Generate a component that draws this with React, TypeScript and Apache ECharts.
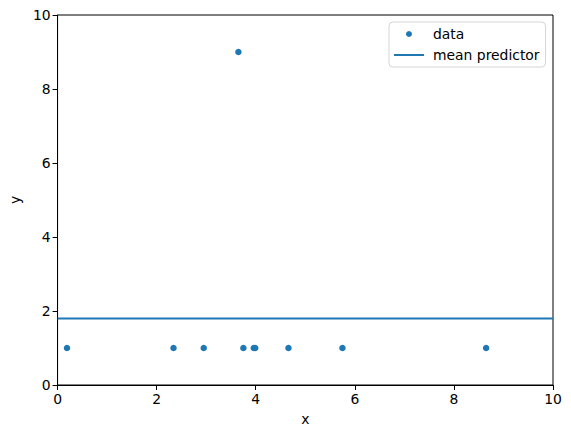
import { useEffect, useRef } from 'react'
import * as echarts from 'echarts'

// scatter points
const DATA_X = [0.19, 2.34, 2.95, 3.65, 3.75, 3.96, 3.99, 4.66, 5.75, 8.65]
const DATA_Y = [1, 1, 1, 9, 1, 1, 1, 1, 1, 1]

// horizontal mean line (y value), spanning the x range
const MEAN_Y = 1.8
const MEAN_X = [0, 10]

const X_TICKS = [0, 2, 4, 6, 8, 10]
const Y_TICKS = [0, 2, 4, 6, 8, 10]

const BLUE = '#1f77b4'
const FONT = 'DejaVu Sans, sans-serif'

// thin horizontal bar centred in a 30x6 box, used as the line's legend icon
const LINE_ICON = 'path://M0 0M0 2L30 2L30 4L0 4ZM30 6'

export default function App() {
  const chartRef = useRef<HTMLDivElement>(null)

  useEffect(() => {
    if (!chartRef.current) return
    document.body.style.margin = '0'

    const chart = echarts.init(chartRef.current, null, { renderer: 'svg' })

    const axisCommon = {
      type: 'value' as const,
      min: 0,
      max: 10,
      interval: 2,
      nameLocation: 'middle' as const,
      nameTextStyle: { color: '#000', fontSize: 13.9, fontFamily: FONT },
      axisLine: { show: true, lineStyle: { color: '#000', width: 1 } },
      axisTick: { show: true, inside: false, length: 5, lineStyle: { color: '#000', width: 1 } },
      axisLabel: { color: '#000', fontSize: 13.9, fontFamily: FONT, margin: 7 },
      splitLine: { show: false },
    }

    const option: echarts.EChartsOption = {
      animation: false,
      backgroundColor: '#fff',
      grid: {
        left: 57,
        right: 18,
        top: 15,
        bottom: 53,
        show: true,
        borderColor: '#000',
        borderWidth: 1,
        backgroundColor: 'transparent',
      },
      legend: {
        orient: 'vertical',
        left: 389,
        top: 22,
        padding: [4, 6, 4, 5],
        itemWidth: 30,
        itemHeight: 6,
        itemGap: 5,
        borderColor: '#d5d5d5',
        borderWidth: 1,
        borderRadius: 4,
        backgroundColor: 'rgba(255,255,255,0.8)',
        textStyle: {
          color: '#000',
          fontSize: 13.9,
          fontFamily: FONT,
          lineHeight: 16,
          padding: [0, 0, 0, 4],
        },
        data: [
          { name: 'data', icon: 'circle' },
          { name: 'mean predictor', icon: LINE_ICON },
        ],
      },
      xAxis: {
        ...axisCommon,
        name: 'x',
        nameGap: 27,
        axisLabel: {
          ...axisCommon.axisLabel,
          formatter: (v: number) => (X_TICKS.includes(v) ? String(v) : ''),
        },
      },
      yAxis: {
        ...axisCommon,
        name: 'y',
        nameGap: 34,
        axisLabel: {
          ...axisCommon.axisLabel,
          formatter: (v: number) => (Y_TICKS.includes(v) ? String(v) : ''),
        },
      },
      series: [
        {
          name: 'data',
          type: 'scatter',
          symbol: 'circle',
          symbolSize: 6.5,
          symbolKeepAspect: true,
          itemStyle: { color: BLUE, opacity: 1 },
          data: DATA_X.map((x, i) => [x, DATA_Y[i]]),
          z: 3,
        },
        {
          name: 'mean predictor',
          type: 'line',
          symbol: 'none',
          lineStyle: { color: BLUE, width: 2 },
          itemStyle: { color: BLUE },
          data: MEAN_X.map((x) => [x, MEAN_Y]),
          z: 2,
        },
      ],
    }

    chart.setOption(option)

    return () => {
      chart.dispose()
    }
  }, [])

  return <div ref={chartRef} style={{ width: '571px', height: '438px' }} />
}
